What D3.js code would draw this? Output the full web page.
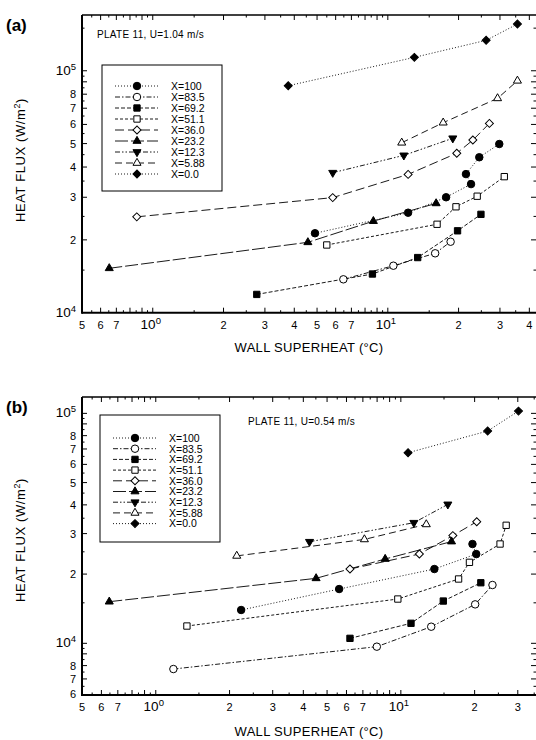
<!DOCTYPE html>
<html>
<head>
<meta charset="utf-8">
<script src="https://cdn.jsdelivr.net/npm/d3@7/dist/d3.min.js"></script>
<style>
  html, body { margin: 0; padding: 0; background: #fff; }
  svg { display: block; font-family: "Liberation Sans", Arial, sans-serif; }
</style>
</head>
<body>
<svg id="chart" width="536" height="740"></svg>
<script>
// Wall superheat (°C) vs heat flux (W/m²), two velocities, nine stations X.

const seriesLabels = ["X=100", "X=83.5", "X=69.2", "X=51.1", "X=36.0", "X=23.2", "X=12.3", "X=5.88", "X=0.0"];

// panel (a): U = 1.04 m/s, [superheat, flux] per series, same order as labels
const pointsA = [
  [[4.9, 21300], [12.2, 25900], [17.7, 30000], [22.6, 34000], [21.5, 37400], [24.5, 43900], [29.8, 49800]],
  [[6.47, 13740], [10.56, 15640], [15.9, 17600], [18.5, 19650]],
  [[2.77, 11900], [8.6, 14450], [13.4, 16900], [19.8, 21800], [24.9, 25500]],
  [[5.5, 19050], [16.2, 23200], [19.5, 27400], [24.0, 30300], [31.3, 36500]],
  [[0.855, 24900], [5.83, 29900], [12.2, 37300], [19.65, 45600], [23.0, 51700], [27.05, 60600]],
  [[0.653, 15260], [4.57, 19540], [8.68, 23900], [16.05, 28300]],
  [[5.83, 37900], [11.7, 44700], [18.9, 52600]],
  [[11.46, 50400], [17.2, 61000], [29.3, 76900], [35.6, 90900]],
  [[3.77, 86700], [12.97, 113600], [26.2, 133600], [35.6, 156000]]
];

// panel (b): U = 0.54 m/s
const pointsB = [
  [[2.23, 13960], [5.6, 17220], [13.7, 21040], [20.3, 24450], [19.6, 27030]],
  [[1.18, 7730], [7.98, 9670], [13.3, 11810], [20.1, 14770], [23.65, 17930]],
  [[6.2, 10510], [11.0, 12220], [14.9, 15270], [21.2, 18340]],
  [[1.34, 11890], [9.72, 15580], [17.2, 19040], [19.05, 22500], [25.4, 27030], [26.9, 32600]],
  [[6.2, 21040], [11.9, 24450], [16.3, 29400], [20.4, 33800]],
  [[0.646, 15170], [4.51, 19170], [8.63, 23260], [16.1, 27700]],
  [[4.24, 27650], [11.3, 33450], [15.55, 40200]],
  [[2.14, 24000], [7.1, 28300], [12.7, 32900]],
  [[10.7, 67400], [22.6, 83800], [30.2, 102300]]
];

const xDomainA = [0.5, 42.7];
const yDomainA = [1e4, 1.70e5];
const xDomainB = [0.5, 35.6];
const yDomainB = [5960, 1.178e5];

// tick labels shown on each axis (others get bare ticks)
const xLabelValues = [0.5, 0.6, 0.7, 1, 2, 3, 4, 5, 6, 7, 10, 20, 30, 40];
const yLabelValuesA = [1e4, 2e4, 3e4, 4e4, 5e4, 6e4, 7e4, 8e4, 1e5];
const yLabelValuesB = [6e3, 7e3, 8e3, 1e4, 2e4, 3e4, 4e4, 5e4, 6e4, 7e4, 8e4, 1e5];

// line style + marker per series
const dashes = ["1,2", "5,2,1.5,2", "4,2", "3,2", "9,4", "13,3", "5,2,1.5,2,1.5,2", "7,4", "1,2"];
const markers = [
  { type: "circle", fill: true }, { type: "circle", fill: false },
  { type: "square", fill: true }, { type: "square", fill: false },
  { type: "diamond", fill: false }, { type: "triUp", fill: true },
  { type: "triDown", fill: true }, { type: "triUp", fill: false },
  { type: "diamond", fill: true }
];

const svg = d3.select('#chart');

function symbolPath(type) {
  if (type === 'circle') return d3.symbol(d3.symbolCircle, 44)();
  if (type === 'square') return d3.symbol(d3.symbolSquare, 40)();
  if (type === 'diamond') return d3.symbol(d3.symbolSquare, 32)();
  return d3.symbol(d3.symbolTriangle, 28)();
}
function symbolRotate(type) {
  if (type === 'diamond') return 45;
  if (type === 'triDown') return 180;
  return 0;
}

function drawMarker(g, x, y, m) {
  g.append('path')
    .attr('d', symbolPath(m.type))
    .attr('transform', `translate(${x},${y}) rotate(${symbolRotate(m.type)})`)
    .attr('fill', m.fill ? '#000' : '#fff')
    .attr('stroke', '#000')
    .attr('stroke-width', 1);
}

function logTicks(domain) {
  const out = [];
  for (let e = -2; e <= 6; e++) {
    const dec = Math.pow(10, e);
    for (let k = 1; k < 10; k += 0.5) {
      const v = k * dec;
      if (v >= domain[0] * 0.999 && v <= domain[1] * 1.001) out.push({ v, minor: k % 1 !== 0 });
    }
  }
  return out;
}

function isPow10(v) {
  const l = Math.log10(v);
  return Math.abs(l - Math.round(l)) < 1e-9;
}

function tickLabel(sel, v, anchor) {
  sel.attr('text-anchor', anchor);
  if (isPow10(v)) {
    sel.append('tspan').attr('font-size', 13.5).text('10');
    sel.append('tspan').attr('font-size', 9.5).attr('dy', -5).text(String(Math.round(Math.log10(v))));
  } else {
    const lead = +(v / Math.pow(10, Math.floor(Math.log10(v) + 1e-9))).toFixed(3);
    sel.attr('font-size', 11).text(String(lead));
  }
}

function drawPanel(cfg) {
  const g = svg.append('g');
  const x = d3.scaleLog().domain(cfg.xDomain).range([cfg.left, cfg.right]);
  const y = d3.scaleLog().domain(cfg.yDomain).range([cfg.bottom, cfg.top]);

  // frame
  g.append('line').attr('x1', cfg.left).attr('x2', cfg.right).attr('y1', cfg.top).attr('y2', cfg.top)
    .attr('stroke', '#000').attr('stroke-width', 1.4);
  g.append('line').attr('x1', cfg.left).attr('x2', cfg.right).attr('y1', cfg.bottom).attr('y2', cfg.bottom)
    .attr('stroke', '#000').attr('stroke-width', 2);
  g.append('line').attr('x1', cfg.left).attr('x2', cfg.left).attr('y1', cfg.top).attr('y2', cfg.bottom + 1)
    .attr('stroke', '#000').attr('stroke-width', 2);

  // x ticks (inward, top and bottom)
  logTicks(cfg.xDomain).forEach(t => {
    const px = x(t.v);
    if (px < cfg.left + 1 || px > cfg.right - 1) return;
    const len = t.minor ? 2.5 : 5;
    g.append('line').attr('x1', px).attr('x2', px).attr('y1', cfg.bottom).attr('y2', cfg.bottom - len)
      .attr('stroke', '#000').attr('stroke-width', 1);
    g.append('line').attr('x1', px).attr('x2', px).attr('y1', cfg.top).attr('y2', cfg.top + len)
      .attr('stroke', '#000').attr('stroke-width', 1);
  });
  xLabelValues.filter(v => v >= cfg.xDomain[0] * 0.999 && v <= cfg.xDomain[1]).forEach(v => {
    const t = g.append('text').attr('x', x(v) - (isPow10(v) ? 2 : 0)).attr('y', cfg.bottom + 16);
    tickLabel(t, v, 'middle');
  });

  // y ticks (inward, left and right)
  logTicks(cfg.yDomain).forEach(t => {
    const py = y(t.v);
    if (py < cfg.top + 1 || py > cfg.bottom - 1) return;
    const len = t.minor ? 2.5 : 5;
    g.append('line').attr('x1', cfg.left).attr('x2', cfg.left + len).attr('y1', py).attr('y2', py)
      .attr('stroke', '#000').attr('stroke-width', 1);
    g.append('line').attr('x1', cfg.right).attr('x2', cfg.right - len).attr('y1', py).attr('y2', py)
      .attr('stroke', '#000').attr('stroke-width', 1);
  });
  cfg.yLabels.forEach(v => {
    const t = g.append('text').attr('x', cfg.left - 6).attr('y', y(v) + 4);
    tickLabel(t, v, 'end');
  });

  // series
  const line = d3.line().x(d => x(d[0])).y(d => y(d[1]));
  cfg.points.forEach((pts, i) => {
    g.append('path').attr('d', line(pts))
      .attr('fill', 'none').attr('stroke', '#000').attr('stroke-width', 0.9)
      .attr('stroke-dasharray', dashes[i]);
  });
  cfg.points.forEach((pts, i) => {
    pts.forEach(p => drawMarker(g, x(p[0]), y(p[1]), markers[i]));
  });

  // legend
  const L = cfg.legend;
  g.append('rect').attr('x', L.x).attr('y', L.y).attr('width', L.w).attr('height', L.h)
    .attr('fill', '#fff').attr('stroke', '#000').attr('stroke-width', 1);
  seriesLabels.forEach((lab, i) => {
    const ry = L.y + L.row0 + i * L.step;
    g.append('line').attr('x1', L.x + 13).attr('x2', L.x + 56).attr('y1', ry).attr('y2', ry)
      .attr('stroke', '#000').attr('stroke-width', 0.9).attr('stroke-dasharray', dashes[i]);
    drawMarker(g, L.x + 35, ry, markers[i]);
    g.append('text').attr('x', L.x + 69).attr('y', ry + 3.8)
      .attr('font-size', 10.5).text(lab);
  });

  // captions
  svg.append('text').attr('x', 6).attr('y', cfg.top + 16)
    .attr('font-size', 17).attr('font-weight', 'bold').text(cfg.tag);
  svg.append('text').attr('x', cfg.plate[0]).attr('y', cfg.plate[1])
    .attr('font-size', 10).attr('letter-spacing', 0.3).text(cfg.plateText);
  svg.append('text')
    .attr('transform', `translate(25,${cfg.yTitleMid}) rotate(-90)`)
    .attr('text-anchor', 'middle').attr('font-size', 13).attr('letter-spacing', 0.6)
    .html('HEAT FLUX (W/m<tspan font-size="9" dy="-5">2</tspan><tspan dy="5">)</tspan>');
  svg.append('text').attr('x', 309).attr('y', cfg.xTitleY)
    .attr('text-anchor', 'middle').attr('font-size', 13).attr('letter-spacing', 0.3)
    .text('WALL SUPERHEAT (\u00B0C)');
}

drawPanel({
  tag: '(a)', left: 82, right: 536, top: 15, bottom: 312.7,
  xDomain: xDomainA, yDomain: yDomainA, yLabels: yLabelValuesA, points: pointsA,
  legend: { x: 102, y: 65, w: 120, h: 126, row0: 21, step: 11 },
  plate: [97, 38], plateText: 'PLATE 11, U=1.04 m/s',
  yTitleMid: 160, xTitleY: 352
});

drawPanel({
  tag: '(b)', left: 82, right: 536, top: 397, bottom: 695,
  xDomain: xDomainB, yDomain: yDomainB, yLabels: yLabelValuesB, points: pointsB,
  legend: { x: 100, y: 415, w: 120, h: 127, row0: 23, step: 10.7 },
  plate: [248, 425], plateText: 'PLATE 11, U=0.54 m/s',
  yTitleMid: 540, xTitleY: 736
});
</script>
</body>
</html>
